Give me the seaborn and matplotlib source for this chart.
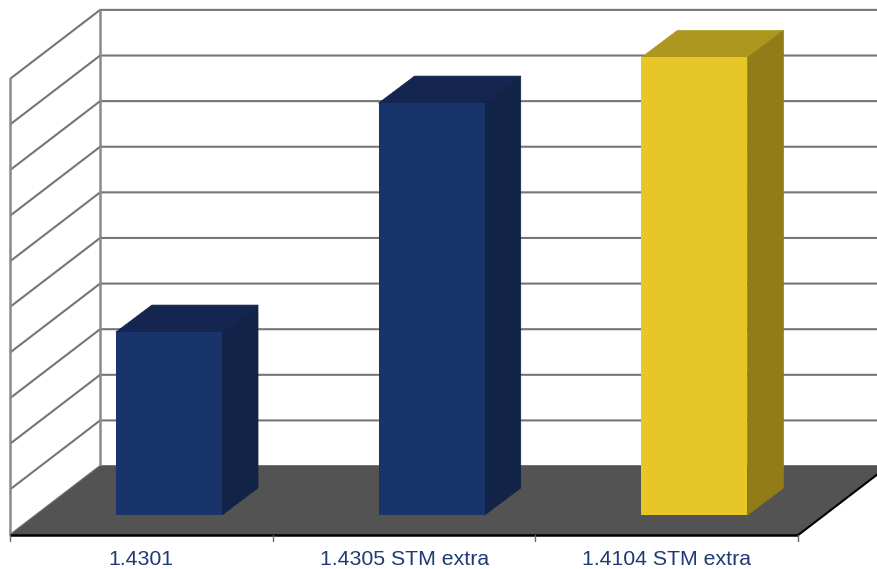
import matplotlib.pyplot as plt
import pandas as pd
import seaborn as sns
from matplotlib.patches import Polygon

CATEGORIES = ["1.4301", "1.4305 STM extra", "1.4104 STM extra"]
VALUES = [4.01, 9.03, 10.03]
GRID_LEVELS = list(range(0, 11))

FRONT = ["#19346B", "#19346B", "#E6C727"]
TOP = ["#14264F", "#14264F", "#AD971F"]
SIDE = ["#112347", "#112347", "#917C18"]

# figure is one full axes, the limits put a unit of x on a category step
XLIM = (-0.643, 2.695)
YLIM = (-1.184, 11.29)
BAR_W = 0.404
DX, DY = 0.137, 0.592
WALL_DX, WALL_DY = 0.343, 1.513
X0, X1 = -0.605, 2.395
FLOOR_Y = -0.44
GRID_C = "#757575"

sns.set_theme(style="white", font="Liberation Sans")
fig = plt.figure(figsize=(8.77, 5.69), dpi=100)
ax = fig.add_axes([0, 0, 1, 1])

df = pd.DataFrame({"grade": CATEGORIES, "value": VALUES})

# left wall and back wall grid
for lv in GRID_LEVELS:
    y = FLOOR_Y + lv
    ax.plot([X0, X0 + WALL_DX, XLIM[1]], [y, y + WALL_DY, y + WALL_DY],
            color=GRID_C, lw=1.5, zorder=1, solid_capstyle="butt")
ax.plot([X0 + WALL_DX] * 2, [FLOOR_Y + WALL_DY, FLOOR_Y + WALL_DY + 10], color="#8A8A8A", lw=1.8, zorder=1)
ax.plot([X0] * 2, [FLOOR_Y, FLOOR_Y + 10], color="#8A8A8A", lw=1.8, zorder=1)

# floor
ax.add_patch(Polygon([(X0, FLOOR_Y), (X0 + WALL_DX, FLOOR_Y + WALL_DY),
                      (X1 + WALL_DX, FLOOR_Y + WALL_DY), (X1, FLOOR_Y)],
                     closed=True, fc="#535353", ec="none", zorder=2))
ax.plot([X1, X1 + WALL_DX], [FLOOR_Y, FLOOR_Y + WALL_DY], color="black", lw=1.5, zorder=3)

sns.barplot(data=df, x="grade", y="value", hue="grade", palette=FRONT, width=BAR_W,
            legend=False, saturation=1, ax=ax, zorder=5)

# depth faces taken from the drawn bars, thin edge closes the seams
for container, top_c, side_c in zip(ax.containers, TOP, SIDE):
    for bar in container:
        bar.set_edgecolor("none")
        x, w, h = bar.get_x(), bar.get_width(), bar.get_height()
        ax.add_patch(Polygon([(x, h), (x + w, h), (x + w + DX, h + DY), (x + DX, h + DY)],
                             closed=True, fc=top_c, ec=top_c, lw=0.5, zorder=4))
        ax.add_patch(Polygon([(x + w, 0), (x + w + DX, DY), (x + w + DX, h + DY), (x + w, h)],
                             closed=True, fc=side_c, ec=side_c, lw=0.5, zorder=4))

# baseline with ticks between categories, labels under the spans
ax.plot([X0, X1], [FLOOR_Y, FLOOR_Y], color="black", lw=1.8, zorder=6, solid_capstyle="butt")
for i in range(len(CATEGORIES) + 1):
    ax.plot([X0 + i, X0 + i], [FLOOR_Y, FLOOR_Y - 0.12], color="#666666", lw=1, zorder=6)

ax.set_xlabel("")
ax.set_ylabel("")
ax.set_yticks([])
ax.set_xticks([])
for i, name in enumerate(CATEGORIES):
    ax.text(X0 + i + 0.5, -0.98, name, ha="center", va="center", color="#1F3A75", fontsize=15.3)
sns.despine(ax=ax, left=True, bottom=True)
ax.set_xlim(*XLIM)
ax.set_ylim(*YLIM)

fig.savefig("out.png", dpi=100)
